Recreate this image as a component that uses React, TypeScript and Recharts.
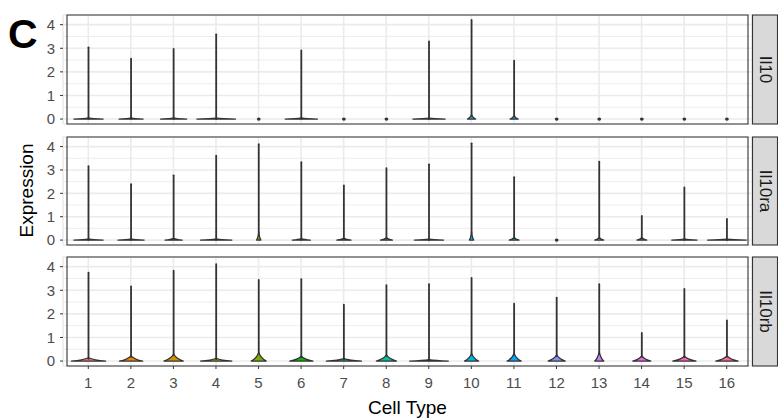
import React from "react";
import {
  Bar,
  CartesianGrid,
  ComposedChart,
  ReferenceArea,
  XAxis,
  YAxis,
} from "recharts";

const clusters = ["1", "2", "3", "4", "5", "6", "7", "8", "9", "10", "11", "12", "13", "14", "15", "16"];

// ggplot default hue palette, one per cell type
const hues = [
  "#F8766D", "#E68613", "#CD9600", "#ABA300", "#7CAE00", "#0CB702", "#00BE67", "#00C19A",
  "#00BFC4", "#00B8E7", "#00A9FF", "#8494FF", "#C77CFF", "#ED68ED", "#FF61C9", "#FF68A1",
];

// per gene: highest expression, violin width at 0 (fraction of band), height of the bulge
const il10Max = [3.04, 2.56, 2.97, 3.59, 0, 2.91, 0, 0, 3.29, 4.2, 2.47, 0, 0, 0, 0, 0];
const il10Width = [0.68, 0.56, 0.61, 0.9, 0, 0.75, 0, 0, 0.75, 0.19, 0.19, 0, 0, 0, 0, 0];
const il10Bulge = [0.05, 0.05, 0.05, 0.04, 0, 0.05, 0, 0, 0.04, 0.18, 0.15, 0, 0, 0, 0, 0];

const il10raMax = [3.16, 2.39, 2.77, 3.61, 4.1, 3.33, 2.34, 3.08, 3.24, 4.14, 2.69, 0, 3.36, 1.03, 2.25, 0.91];
const il10raWidth = [0.68, 0.61, 0.4, 0.73, 0.1, 0.42, 0.33, 0.28, 0.68, 0.1, 0.23, 0, 0.21, 0.23, 0.59, 0.9];
const il10raBulge = [0.05, 0.05, 0.08, 0.05, 0.35, 0.06, 0.08, 0.1, 0.04, 0.35, 0.12, 0, 0.12, 0.1, 0.05, 0.04];

const il10rbMax = [3.75, 3.16, 3.83, 4.11, 3.44, 3.47, 2.39, 3.22, 3.26, 3.52, 2.43, 2.69, 3.26, 1.19, 3.06, 1.72];
const il10rbWidth = [0.8, 0.54, 0.45, 0.73, 0.35, 0.54, 0.82, 0.47, 0.9, 0.33, 0.33, 0.4, 0.21, 0.42, 0.54, 0.52];
const il10rbBulge = [0.14, 0.22, 0.3, 0.12, 0.36, 0.2, 0.1, 0.26, 0.06, 0.32, 0.32, 0.26, 0.4, 0.22, 0.2, 0.22];

const yTicks = [0, 1, 2, 3, 4];
const yMinor = [0.5, 1.5, 2.5, 3.5];
const yDomain: [number, number] = [-0.21, 4.41];

const FONT = '"Liberation Sans", Arial, sans-serif';
const INK = "#333333";
const GRID = "#EBEBEB";

type Row = { cluster: string; max: number; w: number; h: number; color: string };

function rows(max: number[], width: number[], bulge: number[]): Row[] {
  return clusters.map((c, i) => ({ cluster: c, max: max[i], w: width[i], h: bulge[i], color: hues[i] }));
}

// flared base at zero plus a thin stem up to the highest value
function Violin(props: any) {
  const { x, y, width, height, payload } = props;
  const cx = x + width / 2;
  const y0 = y + height;
  if (!payload || payload.max <= 0) {
    return <ellipse cx={cx} cy={y0} rx={1.9} ry={1.6} fill={INK} />;
  }
  const ppu = height / payload.max;
  const hw = Math.max((payload.w * width) / 2, 1.5);
  const yB = y0 - payload.h * ppu;
  const kx = hw * 0.3;
  const ky = (y0 - yB) * 0.3;
  const d = [
    `M${cx - hw},${y0}`,
    `Q${cx - kx},${y0 - ky} ${cx},${yB}`,
    `Q${cx + kx},${y0 - ky} ${cx + hw},${y0}`,
    "Z",
  ].join(" ");
  return (
    <g>
      <path d={d} fill={payload.color} stroke={INK} strokeWidth={1.25} strokeLinejoin="round" />
      <line x1={cx} y1={yB + 1} x2={cx} y2={y} stroke={INK} strokeWidth={1.8} strokeLinecap="round" />
    </g>
  );
}

function Facet({
  data,
  height,
  top,
  showX,
}: {
  data: Row[];
  height: number;
  top: number;
  showX?: boolean;
}) {
  return (
    <div style={{ position: "absolute", left: 0, top }}>
      <ComposedChart
        width={778}
        height={height}
        data={data}
        margin={{ top: 5, right: 26, bottom: showX ? 0 : 5, left: 0 }}
        barCategoryGap={0}
        barGap={0}
      >
        <CartesianGrid stroke={GRID} strokeWidth={0.9} vertical={false} horizontalValues={yMinor} />
        <CartesianGrid stroke={GRID} strokeWidth={1.6} />
        <XAxis
          dataKey="cluster"
          type="category"
          interval={0}
          padding={{ left: 4, right: 4 }}
          hide={!showX}
          height={showX ? 30 : 0}
          axisLine={false}
          tickLine={{ stroke: INK }}
          tickSize={3}
          tickMargin={8}
          tick={{ fill: "#4D4D4D", fontSize: 15, fontFamily: FONT }}
        />
        <YAxis
          type="number"
          domain={yDomain}
          allowDataOverflow
          ticks={yTicks}
          width={63}
          axisLine={false}
          tickLine={{ stroke: INK }}
          tickSize={3}
          tickMargin={5}
          tick={{ fill: "#4D4D4D", fontSize: 15, fontFamily: FONT }}
        />
        <Bar dataKey="max" isAnimationActive={false} shape={(p: any) => <Violin {...p} />} />
        <ReferenceArea y1={yDomain[0]} y2={yDomain[1]} fill="none" stroke={INK} strokeWidth={1.1} />
      </ComposedChart>
    </div>
  );
}

const strips = [
  { label: "Il10", y: 15, h: 109 },
  { label: "Il10ra", y: 137, h: 108 },
  { label: "Il10rb", y: 257, h: 109 },
];

export default function App() {
  return (
    <div
      style={{
        position: "absolute",
        left: 0,
        top: 0,
        width: 778,
        height: 420,
        background: "#fff",
        fontFamily: FONT,
      }}
    >
      <Facet data={rows(il10Max, il10Width, il10Bulge)} top={10} height={119} />
      <Facet data={rows(il10raMax, il10raWidth, il10raBulge)} top={132} height={118} />
      <Facet data={rows(il10rbMax, il10rbWidth, il10rbBulge)} top={252} height={144} showX />
      <svg
        width={778}
        height={420}
        style={{ position: "absolute", left: 0, top: 0, pointerEvents: "none" }}
      >
        <text x={8} y={48} fontSize={41} fontWeight="bold" fontFamily={FONT} fill="#000">
          C
        </text>
        <text
          transform="translate(33,190.5) rotate(-90)"
          textAnchor="middle"
          fontSize={19}
          fontFamily={FONT}
          fill="#000"
        >
          Expression
        </text>
        <text x={407.5} y={414} textAnchor="middle" fontSize={19} fontFamily={FONT} fill="#000">
          Cell Type
        </text>
        {strips.map((s) => (
          <g key={s.label}>
            <rect x={752.5} y={s.y} width={25} height={s.h} fill="#D9D9D9" stroke={INK} strokeWidth={1.1} />
            <text
              transform={`translate(765,${s.y + s.h / 2}) rotate(90)`}
              textAnchor="middle"
              dominantBaseline="central"
              fontSize={17}
              fontFamily={FONT}
              fill="#1A1A1A"
            >
              {s.label}
            </text>
          </g>
        ))}
      </svg>
    </div>
  );
}
